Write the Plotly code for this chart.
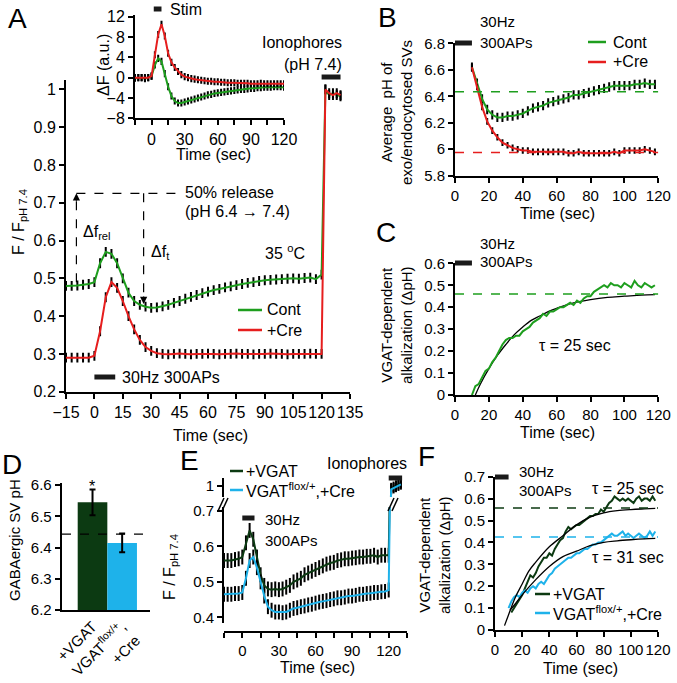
import plotly.graph_objects as go

W, H = 677, 683
FONT = "Liberation Sans, Arial, Helvetica, sans-serif"
GREEN = "#1e9e1e"
RED = "#e61e1e"
DKGREEN = "#0c3a12"
CYAN = "#1eb2ea"


def px(x):
    return x / W


def py(y):
    return 1 - y / H


# ---------------- data ----------------
# Panel A main: F / F_pH7.4
A_t = list(range(-15, 121, 3)) + [122, 124, 126, 128, 130]
A_cont = [0.480, 0.480, 0.481, 0.483, 0.485, 0.490, 0.540, 0.570, 0.565, 0.540,
          0.500, 0.462, 0.440, 0.430, 0.425, 0.422, 0.423, 0.426, 0.430, 0.435,
          0.440, 0.446, 0.451, 0.456, 0.461, 0.465, 0.469, 0.472, 0.476, 0.479,
          0.482, 0.485, 0.488, 0.490, 0.493, 0.495, 0.496, 0.497, 0.498, 0.499,
          0.500, 0.499, 0.501, 0.502, 0.498, 0.510,
          1.000, 0.985, 0.990, 0.985, 0.982]
A_cre = [0.290, 0.290, 0.290, 0.290, 0.290, 0.295, 0.360, 0.450, 0.490, 0.475,
         0.440, 0.400, 0.365, 0.337, 0.318, 0.308, 0.302, 0.300, 0.299, 0.300,
         0.301, 0.300, 0.299, 0.300, 0.300, 0.301, 0.300, 0.299, 0.300, 0.300,
         0.301, 0.300, 0.300, 0.299, 0.300, 0.300, 0.301, 0.300, 0.300, 0.299,
         0.300, 0.300, 0.300, 0.301, 0.300, 0.300,
         1.000, 0.990, 0.985, 0.990, 0.985]
A_xticks = [-15, 0, 15, 30, 45, 60, 75, 90, 105, 120, 135]
A_yticks = [0.2, 0.3, 0.4, 0.5, 0.6, 0.7, 0.8, 0.9, 1.0]
A_ylabels = ["0.2", "0.3", "0.4", "0.5", "0.6", "0.7", "0.8", "0.9", "1"]

# Panel A inset: dF (a.u.)
In_t = list(range(-15, 121, 3))
In_cont = [-0.1, 0.0, 0.0, -0.2, 0.0, 0.3, 2.5, 3.8, 3.2, 0.8,
           -1.8, -3.6, -4.6, -5.0, -5.0, -4.8, -4.6, -4.4, -4.2, -4.0,
           -3.8, -3.6, -3.4, -3.3, -3.1, -3.0, -2.9, -2.8, -2.7, -2.6,
           -2.5, -2.4, -2.3, -2.3, -2.2, -2.1, -2.1, -2.0, -2.0, -1.9,
           -1.9, -1.9, -1.8, -1.8, -1.8, -1.9]
In_cre = [0.0, 0.0, 0.0, 0.0, 0.0, 0.3, 4.5, 8.5, 10.5, 8.2,
          4.8, 3.0, 2.0, 1.2, 0.6, 0.2, 0.0, -0.2, -0.3, -0.4,
          -0.5, -0.6, -0.7, -0.7, -0.8, -0.8, -0.9, -0.9, -1.0, -1.0,
          -1.0, -1.1, -1.1, -1.1, -1.1, -1.2, -1.2, -1.2, -1.1, -1.2,
          -1.2, -1.2, -1.2, -1.2, -1.2, -1.2]
In_xticks = [-15, 0, 15, 30, 45, 60, 75, 90, 105, 120]
In_xlabels = ["", "0", "", "30", "", "60", "", "90", "", "120"]
In_yticks = [-8, -4, 0, 4, 8, 12]

# Panel B: average pH
B_t = list(range(10, 119, 3))
B_cont = [6.62, 6.50, 6.38, 6.30, 6.26, 6.24, 6.24, 6.25, 6.25, 6.26,
          6.27, 6.29, 6.31, 6.32, 6.33, 6.35, 6.36, 6.37, 6.38, 6.39,
          6.41, 6.41, 6.42, 6.43, 6.44, 6.45, 6.46, 6.47, 6.48, 6.48,
          6.48, 6.48, 6.49, 6.49, 6.50, 6.49, 6.49]
B_cre = [6.62, 6.47, 6.32, 6.21, 6.14, 6.09, 6.05, 6.03, 6.01, 6.00,
         5.99, 5.99, 5.98, 5.98, 5.98, 5.98, 5.98, 5.98, 5.98, 5.97,
         5.97, 5.98, 5.97, 5.97, 5.97, 5.97, 5.97, 5.97, 5.98, 5.97,
         5.99, 5.99, 5.99, 5.99, 6.00, 5.99, 5.98]
B_cont_ss = 6.435
B_cre_ss = 5.975
B_yticks = [5.8, 6.0, 6.2, 6.4, 6.6, 6.8]
B_ylabels = ["5.8", "6", "6.2", "6.4", "6.6", "6.8"]

# Panel C: VGAT-dependent alkalization
C_t = list(range(10, 119, 2))
C_vals = [0.00, 0.04, 0.05, 0.08, 0.11, 0.12, 0.15, 0.17, 0.20, 0.23,
          0.25, 0.26, 0.26, 0.27, 0.27, 0.29, 0.30, 0.31, 0.33, 0.34,
          0.35, 0.37, 0.36, 0.38, 0.38, 0.39, 0.40, 0.40, 0.41, 0.42,
          0.41, 0.43, 0.42, 0.44, 0.45, 0.45, 0.47, 0.48, 0.49, 0.50,
          0.49, 0.51, 0.50, 0.50, 0.49, 0.51, 0.50, 0.49, 0.52, 0.50,
          0.49, 0.51, 0.50, 0.49, 0.50]
C_fit_t = [12, 15, 20, 25, 30, 35, 40, 45, 50, 55, 60, 70, 80, 90, 100, 110, 118]
C_fit = [0.0, 0.05, 0.12, 0.18, 0.23, 0.275, 0.31, 0.34, 0.36, 0.38, 0.395,
         0.42, 0.435, 0.445, 0.45, 0.455, 0.457]
C_ss = 0.46
C_yticks = [0, 0.1, 0.2, 0.3, 0.4, 0.5, 0.6]
C_ylabels = ["0", "0.1", "0.2", "0.3", "0.4", "0.5", "0.6"]

# Panel D: GABAergic SV pH
D_cats = ["+VGAT", "VGAT<sup>flox/+</sup>,<br>+Cre"]
D_vals = [6.545, 6.415]
D_err = [0.041, 0.030]
D_ref = 6.443
D_yticks = [6.2, 6.3, 6.4, 6.5, 6.6]

# Panel E: F / F_pH7.4 (broken axis)
E_t = list(range(-15, 121, 3)) + [122, 124, 126, 128, 130]
E_vgat = [0.560, 0.560, 0.560, 0.563, 0.565, 0.570, 0.610, 0.645, 0.620, 0.570,
          0.520, 0.490, 0.480, 0.478, 0.480, 0.478, 0.480, 0.485, 0.490, 0.500,
          0.505, 0.510, 0.520, 0.525, 0.530, 0.535, 0.540, 0.545, 0.550, 0.553,
          0.555, 0.560, 0.562, 0.565, 0.565, 0.567, 0.568, 0.570, 0.570, 0.572,
          0.572, 0.575, 0.570, 0.575, 0.575, 0.575,
          0.990, 0.995, 1.000, 1.005, 1.010]
E_cre = [0.465, 0.465, 0.465, 0.467, 0.467, 0.470, 0.510, 0.560, 0.570, 0.540,
         0.500, 0.460, 0.430, 0.420, 0.415, 0.415, 0.413, 0.415, 0.420, 0.425,
         0.427, 0.430, 0.432, 0.435, 0.437, 0.440, 0.443, 0.445, 0.447, 0.450,
         0.452, 0.455, 0.455, 0.457, 0.460, 0.460, 0.462, 0.465, 0.465, 0.467,
         0.468, 0.470, 0.470, 0.472, 0.473, 0.477,
         0.985, 0.990, 0.995, 1.000, 1.005]
E_xticks = [-15, 0, 15, 30, 45, 60, 75, 90, 105, 120, 135]
E_xlabels = ["", "0", "", "30", "", "60", "", "90", "", "120", ""]
E_yticks = [0.4, 0.5, 0.6, 0.7]

# Panel F: VGAT-dependent alkalization
F_t_vgat = list(range(12, 119, 2))
F_vgat = [0.08, 0.10, 0.12, 0.14, 0.16, 0.19, 0.22, 0.25, 0.24, 0.26,
          0.29, 0.31, 0.33, 0.33, 0.35, 0.34, 0.37, 0.39, 0.41, 0.42,
          0.45, 0.47, 0.46, 0.47, 0.48, 0.48, 0.49, 0.50, 0.51, 0.52,
          0.52, 0.53, 0.53, 0.55, 0.54, 0.56, 0.58, 0.59, 0.61, 0.60,
          0.59, 0.60, 0.59, 0.60, 0.59, 0.58, 0.60, 0.61, 0.59, 0.60,
          0.60, 0.59, 0.61, 0.59]
F_t_cre = list(range(10, 119, 2))
F_cre = [0.10, 0.13, 0.15, 0.16, 0.15, 0.17, 0.18, 0.17, 0.19, 0.20,
         0.19, 0.21, 0.22, 0.21, 0.23, 0.25, 0.26, 0.28, 0.29, 0.30,
         0.31, 0.32, 0.33, 0.33, 0.34, 0.35, 0.35, 0.36, 0.37, 0.37,
         0.38, 0.39, 0.39, 0.40, 0.40, 0.41, 0.42, 0.43, 0.44, 0.43,
         0.43, 0.44, 0.45, 0.43, 0.44, 0.43, 0.42, 0.43, 0.44, 0.43,
         0.42, 0.43, 0.45, 0.43, 0.45]
F_fit1_t = [7, 10, 15, 20, 25, 30, 40, 50, 60, 70, 80, 90, 100, 110, 118]
F_fit1 = [0.02, 0.07, 0.15, 0.21, 0.27, 0.31, 0.38, 0.43, 0.48, 0.515, 0.535,
          0.545, 0.55, 0.553, 0.555]
F_fit2_t = [11, 15, 20, 30, 40, 50, 60, 70, 80, 90, 100, 110, 118]
F_fit2 = [0.09, 0.12, 0.16, 0.23, 0.29, 0.335, 0.36, 0.385, 0.40, 0.407, 0.412,
          0.416, 0.418]
F_vgat_ss = 0.557
F_cre_ss = 0.425
F_yticks = [0, 0.1, 0.2, 0.3, 0.4, 0.5, 0.6, 0.7]
F_ylabels = ["0", "0.1", "0.2", "0.3", "0.4", "0.5", "0.6", "0.7"]

# ---------------- figure ----------------
fig = go.Figure()


def trace(x, y, color, xa, ya, err=None, width=2, shape="linear"):
    tr = go.Scatter(x=x, y=y, mode="lines", xaxis=xa, yaxis=ya,
                    line=dict(color=color, width=width, shape=shape),
                    hoverinfo="skip", showlegend=False)
    if err is not None:
        tr.error_y = dict(type="constant", value=err, color="black",
                          thickness=2, width=0)
    return tr


# A main
fig.add_trace(trace(A_t, A_cont, GREEN, "x", "y", err=0.013))
fig.add_trace(trace(A_t, A_cre, RED, "x", "y", err=0.013))
# A inset
fig.add_trace(trace(In_t, In_cont, GREEN, "x2", "y2", err=0.7))
fig.add_trace(trace(In_t, In_cre, RED, "x2", "y2", err=0.7))
# B
fig.add_trace(trace(B_t, B_cont, GREEN, "x3", "y3", err=0.035))
fig.add_trace(trace(B_t, B_cre, RED, "x3", "y3", err=0.025))
# C
fig.add_trace(trace(C_fit_t, C_fit, "black", "x4", "y4", width=1.3, shape="spline"))
fig.add_trace(trace(C_t, C_vals, GREEN, "x4", "y4", width=2))
# D
fig.add_trace(go.Bar(x=D_cats, y=D_vals, xaxis="x5", yaxis="y5", width=1,
                     marker=dict(color=[DKGREEN, CYAN], line=dict(width=0)),
                     error_y=dict(type="data", array=D_err, color="black",
                                  thickness=2, width=3),
                     hoverinfo="skip", showlegend=False))
# E (lower + upper segments of broken axis)
for ya in ("y6", "y7"):
    fig.add_trace(trace(E_t, E_vgat, DKGREEN, "x6", ya, err=0.021))
    fig.add_trace(trace(E_t, E_cre, CYAN, "x6", ya, err=0.021))
# F
fig.add_trace(trace(F_t_vgat, F_vgat, DKGREEN, "x8", "y8", width=2))
fig.add_trace(trace(F_t_cre, F_cre, CYAN, "x8", "y8", width=2))
fig.add_trace(trace(F_fit1_t, F_fit1, "black", "x8", "y8", width=1.3, shape="spline"))
fig.add_trace(trace(F_fit2_t, F_fit2, "black", "x8", "y8", width=1.3, shape="spline"))


def ax(**kw):
    d = dict(showline=True, linecolor="black", linewidth=2, ticks="outside",
             ticklen=5, tickwidth=2, tickcolor="black", showgrid=False,
             zeroline=False, automargin=False, fixedrange=True, tickangle=0,
             tickfont=dict(size=15, color="black", family=FONT))
    d.update(kw)
    return d


fs16 = dict(size=16, color="black", family=FONT)

fig.update_layout(
    width=W, height=H, margin=dict(l=0, r=0, t=0, b=0),
    template="none", paper_bgcolor="white", plot_bgcolor="rgba(0,0,0,0)",
    showlegend=False, font=dict(family=FONT, color="black"),
    xaxis=ax(domain=[px(66), px(350)], range=[-15, 135], anchor="y",
             tickvals=A_xticks, tickfont=fs16),
    yaxis=ax(domain=[py(391.7), py(80)], range=[0.2, 1.025], anchor="x",
             tickvals=A_yticks, ticktext=A_ylabels, tickfont=fs16),
    xaxis2=ax(domain=[px(135), px(284)], range=[-15, 120], anchor="y2",
              tickvals=In_xticks, ticktext=In_xlabels, tickfont=fs16),
    yaxis2=ax(domain=[py(118.3), py(15)], range=[-8, 12.33], anchor="x2",
              tickvals=In_yticks, tickfont=fs16),
    xaxis3=ax(domain=[px(455), px(658.3)], range=[0, 120], anchor="y3", dtick=20,
              tick0=0),
    yaxis3=ax(domain=[py(175.7), py(43.3)], range=[5.8, 6.8], anchor="x3",
              tickvals=B_yticks, ticktext=B_ylabels),
    xaxis4=ax(domain=[px(455), px(658.3)], range=[0, 120], anchor="y4", dtick=20,
              tick0=0),
    yaxis4=ax(domain=[py(395), py(263.3)], range=[0, 0.6], anchor="x4",
              tickvals=C_yticks, ticktext=C_ylabels),
    xaxis5=ax(domain=[px(61.7), px(150)], type="category", range=[-1.04, 1.94],
              anchor="y5", ticks="", tickangle=-45),
    yaxis5=ax(domain=[py(610), py(483)], range=[6.2, 6.607], anchor="x5",
              tickvals=D_yticks),
    xaxis6=ax(domain=[px(224), px(407)], range=[-15, 135], anchor="free",
              position=py(632), tickvals=E_xticks, ticktext=E_xlabels),
    yaxis6=ax(domain=[py(623), py(507)], range=[0.384, 0.711], anchor="x6",
              tickvals=E_yticks),
    yaxis7=ax(domain=[py(497), py(478)], range=[0.955, 1.03], anchor="x6",
              tickvals=[1]),
    xaxis8=ax(domain=[px(495), px(658)], range=[0, 120], anchor="y8", dtick=20,
              tick0=0),
    yaxis8=ax(domain=[py(630), py(476.7)], range=[0, 0.7], anchor="x8",
              tickvals=F_yticks, ticktext=F_ylabels),
)


def ann(text, x, y, size=16, xanchor="center", yanchor="middle", angle=0,
        align="center"):
    fig.add_annotation(text=text, x=px(x), y=py(y), xref="paper", yref="paper",
                       showarrow=False, textangle=angle, align=align,
                       xanchor=xanchor, yanchor=yanchor,
                       font=dict(size=size, color="black", family=FONT))


def stimtext(x, y1, y2):
    ann("30Hz", x, y1, size=15, xanchor="left")
    ann("300APs", x, y2, size=15, xanchor="left")


def pline(x0, y0, x1, y1, color="black", width=2, dash=None):
    fig.add_shape(type="line", xref="paper", yref="paper", x0=px(x0), y0=py(y0),
                  x1=px(x1), y1=py(y1), line=dict(color=color, width=width, dash=dash))


def dline(xref, yref, x0, y0, x1, y1, color="black", width=1.5, dash="dash"):
    fig.add_shape(type="line", xref=xref, yref=yref, x0=x0, y0=y0, x1=x1, y1=y1,
                  line=dict(color=color, width=width, dash=dash))


def bar(xref, t0, t1, ypx, width=5):
    fig.add_shape(type="line", xref=xref, yref="paper", x0=t0, x1=t1,
                  y0=py(ypx), y1=py(ypx), line=dict(color="#1a1a1a", width=width))


# ---- Panel A ----
ann("A", 17, 18, size=28)
ann("ΔF (a.u.)", 103, 65, angle=-90)
ann("Time (sec)", 213, 155)
ann("Stim", 168, 9, xanchor="left")
bar("x2", 2, 9, 9)
ann("Ionophores", 302, 42)
ann("(pH 7.4)", 313, 64)
bar("x", 120, 130, 77)
ann("F / F<sub>pH 7.4</sub>", 20, 222, angle=-90)
ann("Time (sec)", 210, 435)
ann("50% release", 183, 193, xanchor="left")
ann("(pH 6.4 → 7.4)", 183, 211, xanchor="left")
ann("Δf<sub>rel</sub>", 81, 233, xanchor="left")
ann("Δf<sub>t</sub>", 149, 252, xanchor="left")
ann("35 <sup>o</sup>C", 263, 252, xanchor="left")
pline(238, 310, 262, 310, GREEN, 2.5)
pline(238, 330, 262, 330, RED, 2.5)
ann("Cont", 265, 310, xanchor="left")
ann("+Cre", 265, 330, xanchor="left")
bar("x", 0, 11, 377)
ann("30Hz 300APs", 120, 377, xanchor="left")
dline("x", "y", -9.5, 0.725, 45, 0.725, width=1.2)
dline("x", "y", -9.5, 0.49, -9.5, 0.72, width=1.2)
dline("x", "y", 26, 0.725, 26, 0.44, width=1.2)
fig.add_annotation(x=-9.5, y=0.725, xref="x", yref="y", ax=0, ay=9, text="",
                   showarrow=True, arrowhead=2, arrowsize=1.2, arrowwidth=1.2,
                   arrowcolor="black")
fig.add_annotation(x=26, y=0.432, xref="x", yref="y", ax=0, ay=-9, text="",
                   showarrow=True, arrowhead=2, arrowsize=1.2, arrowwidth=1.2,
                   arrowcolor="black")

# ---- Panel B ----
ann("B", 387, 17, size=28)
ann("Average  pH of<br>exo/endocytosed SVs", 396, 112, size=15, angle=-90)
bar("x3", 0, 10, 43)
stimtext(478, 22, 42)
pline(588, 42, 606, 42, GREEN, 2.5)
pline(588, 62, 606, 62, RED, 2.5)
ann("Cont", 611, 42, xanchor="left")
ann("+Cre", 611, 62, xanchor="left")
ann("Time (sec)", 557, 213)
dline("x3", "y3", 0, B_cont_ss, 120, B_cont_ss, color=GREEN)
dline("x3", "y3", 0, B_cre_ss, 120, B_cre_ss, color=RED)

# ---- Panel C ----
ann("C", 386, 233, size=28)
ann("VGAT-dependent<br>alkalization (ΔpH)", 396, 325, size=15, angle=-90)
bar("x4", 0, 10, 263)
stimtext(478, 243, 262)
ann("τ = 25 sec", 537, 345, xanchor="left")
ann("Time (sec)", 557, 432)
dline("x4", "y4", 0, C_ss, 120, C_ss, color=GREEN)

# ---- Panel D ----
ann("D", 12, 464, size=28)
ann("GABAergic SV pH", 14, 540, size=15, angle=-90)
ann("*", 92, 486, size=16)
fig.add_shape(type="line", xref="paper", yref="y5", x0=px(62), x1=px(152),
              y0=D_ref, y1=D_ref, line=dict(color="black", width=1.2, dash="dash"))

# ---- Panel E ----
ann("E", 189, 460, size=28)
ann("F / F<sub>pH 7.4</sub>", 170, 567, angle=-90)
ann("Time (sec)", 317, 667)
pline(230, 471, 243, 471, DKGREEN, 2.5)
pline(230, 490, 243, 490, CYAN, 2.5)
ann("+VGAT", 244, 471, xanchor="left")
ann("VGAT<sup>flox/+</sup>,+Cre", 244, 490, xanchor="left")
ann("Ionophores", 367, 463)
bar("x6", 120, 131, 478)
bar("x6", 0, 10, 518)
stimtext(263, 519, 540)
for xb in (218, 388):
    pline(xb, 511, xb + 6, 498, "black", 1.5)
    pline(xb + 4, 511, xb + 10, 498, "black", 1.5)

# ---- Panel F ----
ann("F", 426, 456, size=28)
ann("VGAT-dependent<br>alkalization (ΔpH)", 434, 555, size=15, angle=-90)
bar("x8", 0, 10, 477)
stimtext(517, 471, 490)
ann("τ = 25 sec", 590, 488, xanchor="left")
ann("τ = 31 sec", 590, 557, xanchor="left")
pline(535, 594, 550, 594, DKGREEN, 2.5)
pline(535, 613, 550, 613, CYAN, 2.5)
ann("+VGAT", 551, 594, xanchor="left")
ann("VGAT<sup>flox/+</sup>,+Cre", 551, 613, xanchor="left")
ann("Time (sec)", 580, 668)
dline("x8", "y8", 0, F_vgat_ss, 120, F_vgat_ss, color=DKGREEN)
dline("x8", "y8", 0, F_cre_ss, 120, F_cre_ss, color=CYAN)

fig.write_html("out.html", config={"displayModeBar": False},
               post_script="document.body.style.margin='0';"
                           "document.body.style.overflow='hidden';")
